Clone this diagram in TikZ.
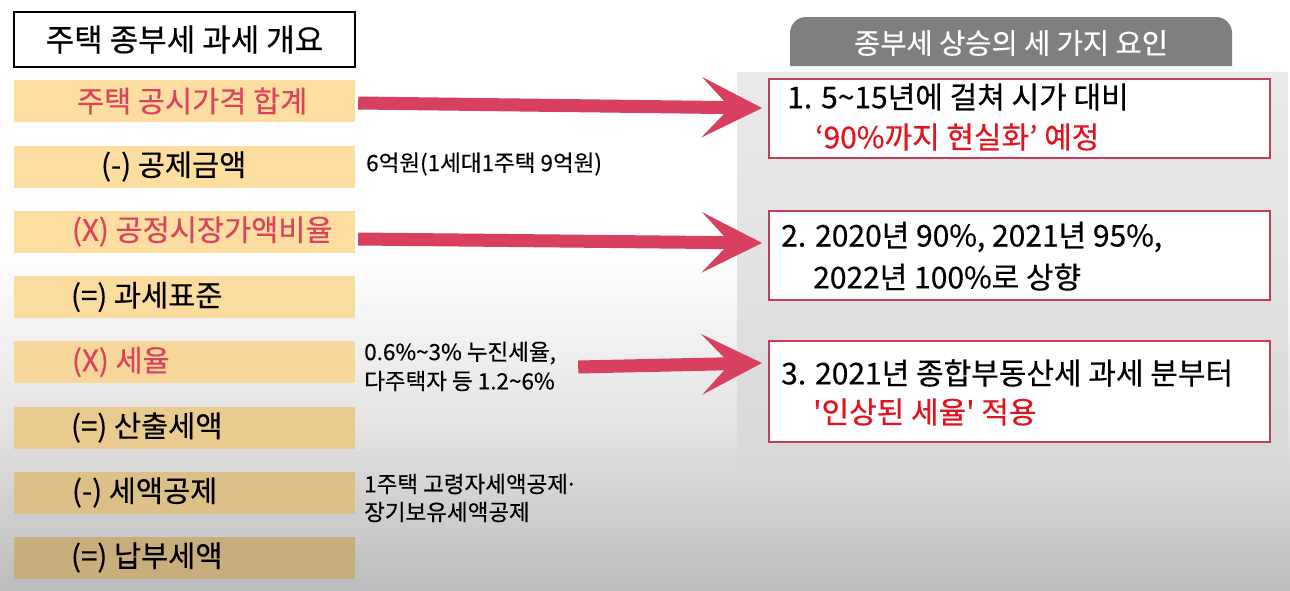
\documentclass[tikz,border=0pt]{standalone}
\usepackage{fontspec}
\setmainfont{Noto Sans CJK KR}[FakeBold=0.4]
\usetikzlibrary{arrows.meta,calc}
\definecolor{redL}{RGB}{218,66,94}
\definecolor{redR}{RGB}{228,18,28}
\definecolor{arrowc}{RGB}{217,64,95}
\definecolor{boxline}{RGB}{196,62,88}
\definecolor{tabgray}{RGB}{127,127,127}
\definecolor{rA}{HTML}{FDDEA0}
\definecolor{rB}{HTML}{FBDC9F}
\definecolor{rC}{HTML}{F6D799}
\definecolor{rD}{HTML}{EACB8F}
\definecolor{rE}{HTML}{DDC088}
\definecolor{rF}{HTML}{C9AE7D}
\tikzset{
  rowbox/.style={draw=none, minimum width=341pt, minimum height=42pt, inner sep=0pt},
  rowtext/.style={anchor=west, inner sep=0pt, font=\fontsize{29.5}{32}\selectfont},
  note/.style={anchor=west, inner sep=0pt, font=\fontsize{22.5}{24}\selectfont, align=left},
  factbox/.style={draw=boxline, line width=1.8pt, fill=white, inner sep=0pt},
  facttext/.style={anchor=west, inner sep=0pt, font=\fontsize{30}{32}\selectfont},
  bigarrow/.style={draw=arrowc, line width=13pt, -{Stealth[length=60pt,width=60pt,inset=28pt]}, arrowc},
}
\begin{document}
\begin{tikzpicture}[x=1pt,y=-1pt]
\useasboundingbox (0,0) rectangle (1290,590);
% background
\fill[white] (0,0) rectangle (1290,250);
\shade[top color=white, bottom color={rgb,255:red,188;green,188;blue,188}, middle color={rgb,255:red,228;green,228;blue,228}] (0,250) rectangle (1290,590);
% right panel
\shade[top color={rgb,255:red,234;green,234;blue,234}, bottom color={rgb,255:red,216;green,216;blue,216}] (737,72) rectangle (1288,470);
% tab
\fill[tabgray] (790,66) [rounded corners=16pt] -- (790,17) -- (1232,17) [sharp corners] -- (1232,66) -- cycle;
\node[inner sep=0pt, text=white, font=\fontsize{28.5}{30}\selectfont] (tab) at (1011,43) {종부세 상승의 세 가지 요인};
% title box
\node[draw=black, line width=1.8pt, fill=white, minimum width=341pt, minimum height=55pt, inner sep=0pt, font=\fontsize{31}{33}\selectfont] (title) at (184.5,39.5) {주택 종부세 과세 개요};
% rows
\node[rowbox, fill=rA] (r1) at (184.5,101) {};
\node[rowbox, fill=rA] (r2) at (184.5,166.5) {};
\node[rowbox, fill=rA] (r3) at (184.5,231.5) {};
\node[rowbox, fill=rB] (r4) at (184.5,297) {};
\node[rowbox, fill=rC] (r5) at (184.5,362) {};
\node[rowbox, fill=rD] (r6) at (184.5,427.5) {};
\node[rowbox, fill=rE] (r7) at (184.5,492.5) {};
\node[rowbox, fill=rF] (r8) at (184.5,557.5) {};
\node[rowtext, text=redL] (t1) at ($(r1.west)+(63,0)$) {주택 공시가격 합계};
\node[rowtext] (t2) at ($(r2.west)+(87,0)$) {(-) 공제금액};
\node[rowtext, text=redL] (t3) at ($(r3.west)+(58,0)$) {(X) 공정시장가액비율};
\node[rowtext] (t4) at ($(r4.west)+(57,0)$) {(=) 과세표준};
\node[rowtext, text=redL] (t5) at ($(r5.west)+(58,0)$) {(X) 세율};
\node[rowtext] (t6) at ($(r6.west)+(57,0)$) {(=) 산출세액};
\node[rowtext] (t7) at ($(r7.west)+(58,0)$) {(-) 세액공제};
\node[rowtext] (t8) at ($(r8.west)+(57,0)$) {(=) 납부세액};
% notes
\node[note] (n1) at (366,164) {6억원(1세대1주택 9억원)};
\node[note] (n2a) at (364,353) {0.6\%\textasciitilde3\% 누진세율,};
\node[note] (n2b) at (364,381) {다주택자 등 1.2\textasciitilde6\%};
\node[note] (n3a) at (364,484) {1주택 고령자세액공제\kern-3pt·};
\node[note] (n3b) at (364,512) {장기보유세액공제};
% fact boxes
\node[factbox, minimum width=501pt, minimum height=79pt] (b1) at (1019.5,118.5) {};
\node[factbox, minimum width=501pt, minimum height=89pt] (b2) at (1019.5,255.5) {};
\node[factbox, minimum width=501pt, minimum height=101pt] (b3) at (1019.5,391.5) {};
\node[facttext] (f1a) at (787,97) {1. 5\textasciitilde15년에 걸쳐 시가 대비};
\node[facttext, text=redR] (f1b) at (815,137) {‘90\%까지 현실화’ 예정};
\node[facttext] (f2a) at (781,237) {2. 2020년 90\%, 2021년 95\%,};
\node[facttext] (f2b) at (813,277) {2022년 100\%로 상향};
\node[facttext] (f3a) at (781,373) {3. 2021년 종합부동산세 과세 분부터};
\node[facttext, text=redR] (f3b) at (813,412) {\textquotesingle 인상된 세율\textquotesingle{} 적용};
% arrows
\coordinate (a1s) at ($(r1.east)+(3,2)$);
\coordinate (a1e) at ($(b1.west)+(-6,-10.5)$);
\coordinate (a2s) at ($(r3.east)+(3,7.5)$);
\coordinate (a2e) at ($(b2.west)+(-6,-12.5)$);
\coordinate (a3s) at ($(r5.east)+(223,5)$);
\coordinate (a3e) at ($(b3.west)+(-6,-28.5)$);
\draw[bigarrow] (a1s) -- (a1e);
\draw[bigarrow] (a2s) -- (a2e);
\draw[bigarrow] (a3s) -- (a3e);
\end{tikzpicture}
\end{document}
